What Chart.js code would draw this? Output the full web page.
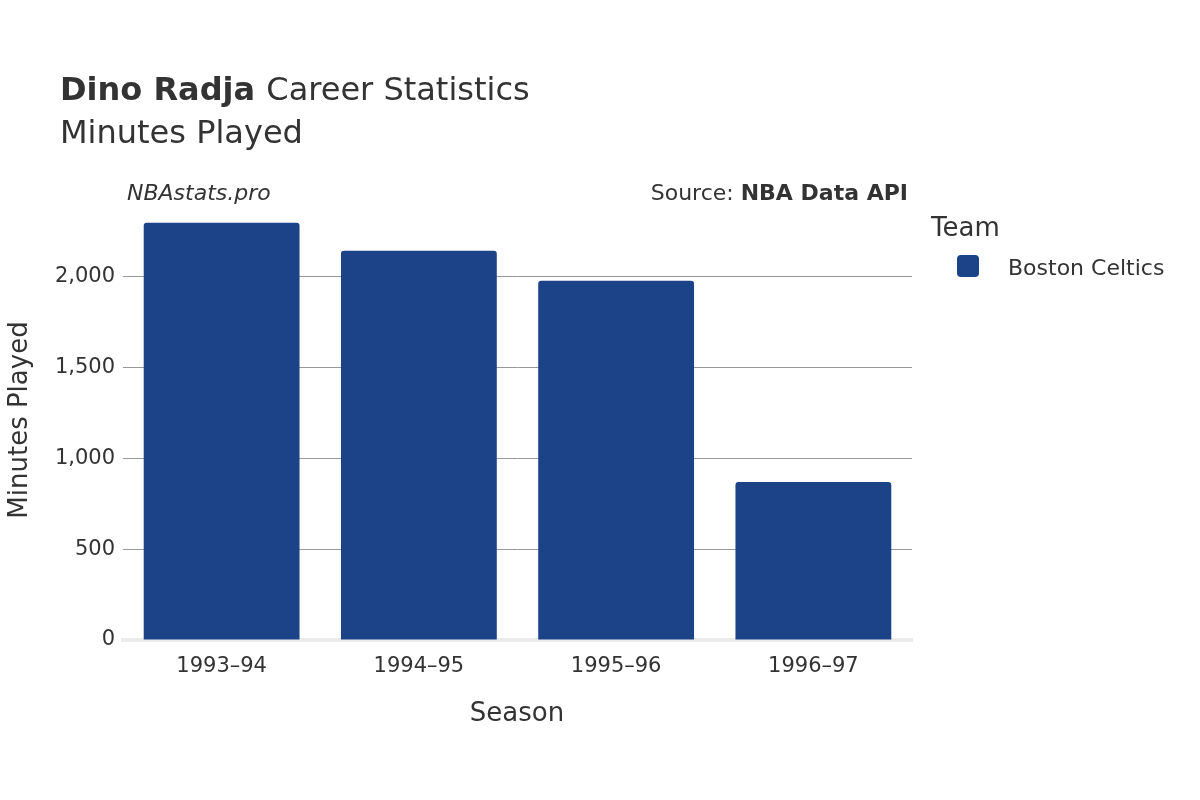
<!DOCTYPE html>
<html><head><meta charset="utf-8">
<script src="https://cdn.jsdelivr.net/npm/chart.js@4"></script>
<style>body{margin:0;background:#fff}#w{width:1200px;height:800px}</style>
</head><body><div id="w"><canvas id="c"></canvas></div>
<script>
const seasons = ["1993–94","1994–95","1995–96","1996–97"];
const minutes = [2297,2143,1978,870];
const teamName = "Boston Celtics";
const yTicks = [0,500,1000,1500,2000];
const FONT = "'DejaVu Sans', sans-serif";
const txt = {
  id:'txt',
  afterDraw(ch){
    const c = ch.ctx; c.save(); c.fillStyle='#333'; c.textBaseline='alphabetic';
    c.font = "bold 32px "+FONT; c.fillText("Dino Radja",60,100);
    const w = c.measureText("Dino Radja ").width;
    c.font = "32px "+FONT; c.fillText("Career Statistics",60+w,100);
    c.fillText("Minutes Played",60,143);
    c.font = "italic 22px "+FONT; c.fillText("NBAstats.pro",127,200);
    c.textAlign='right'; c.font="bold 22px "+FONT; c.fillText("NBA Data API",908,200);
    const bw = c.measureText("NBA Data API").width;
    c.font="22px "+FONT; c.fillText("Source: ",908-bw,200);
    c.textAlign='left'; c.font="26px "+FONT; c.fillText("Team",931,236);
    c.font="22px "+FONT; c.fillText(teamName,1008,275);
    c.fillStyle='#1c4288'; c.beginPath(); c.roundRect(957,255,22,22,4); c.fill();
    c.fillStyle='#333'; c.font="26px "+FONT; c.textAlign='center';
    c.fillText("Season",517,721);
    c.translate(27,420); c.rotate(-Math.PI/2); c.fillText("Minutes Played",0,0);
    c.restore();
  }
};
new Chart(document.getElementById('c'),{
  type:'bar',
  data:{labels:seasons,datasets:[{label:teamName,data:minutes,backgroundColor:'#1c4288',
    borderRadius:3,borderSkipped:'bottom',barPercentage:0.79,categoryPercentage:1}]},
  options:{responsive:true,maintainAspectRatio:false,animation:false,
    layout:{padding:{top:204,right:288,left:0,bottom:0}},
    plugins:{legend:{display:false},tooltip:{enabled:false}},
    scales:{
      x:{grid:{display:false},border:{color:'#ebebeb',width:4},
        ticks:{color:'#333',font:{family:FONT,size:21},padding:6},
        afterFit(s){s.height=160;}},
      y:{min:0,max:2400,afterBuildTicks(s){s.ticks=yTicks.map(v=>({value:v}));},
        grid:{color:'#999',drawTicks:false},border:{display:false},
        ticks:{color:'#333',font:{family:FONT,size:21},padding:8},
        afterFit(s){s.width=123;}}
    }},
  plugins:[txt]
});
</script></body></html>
